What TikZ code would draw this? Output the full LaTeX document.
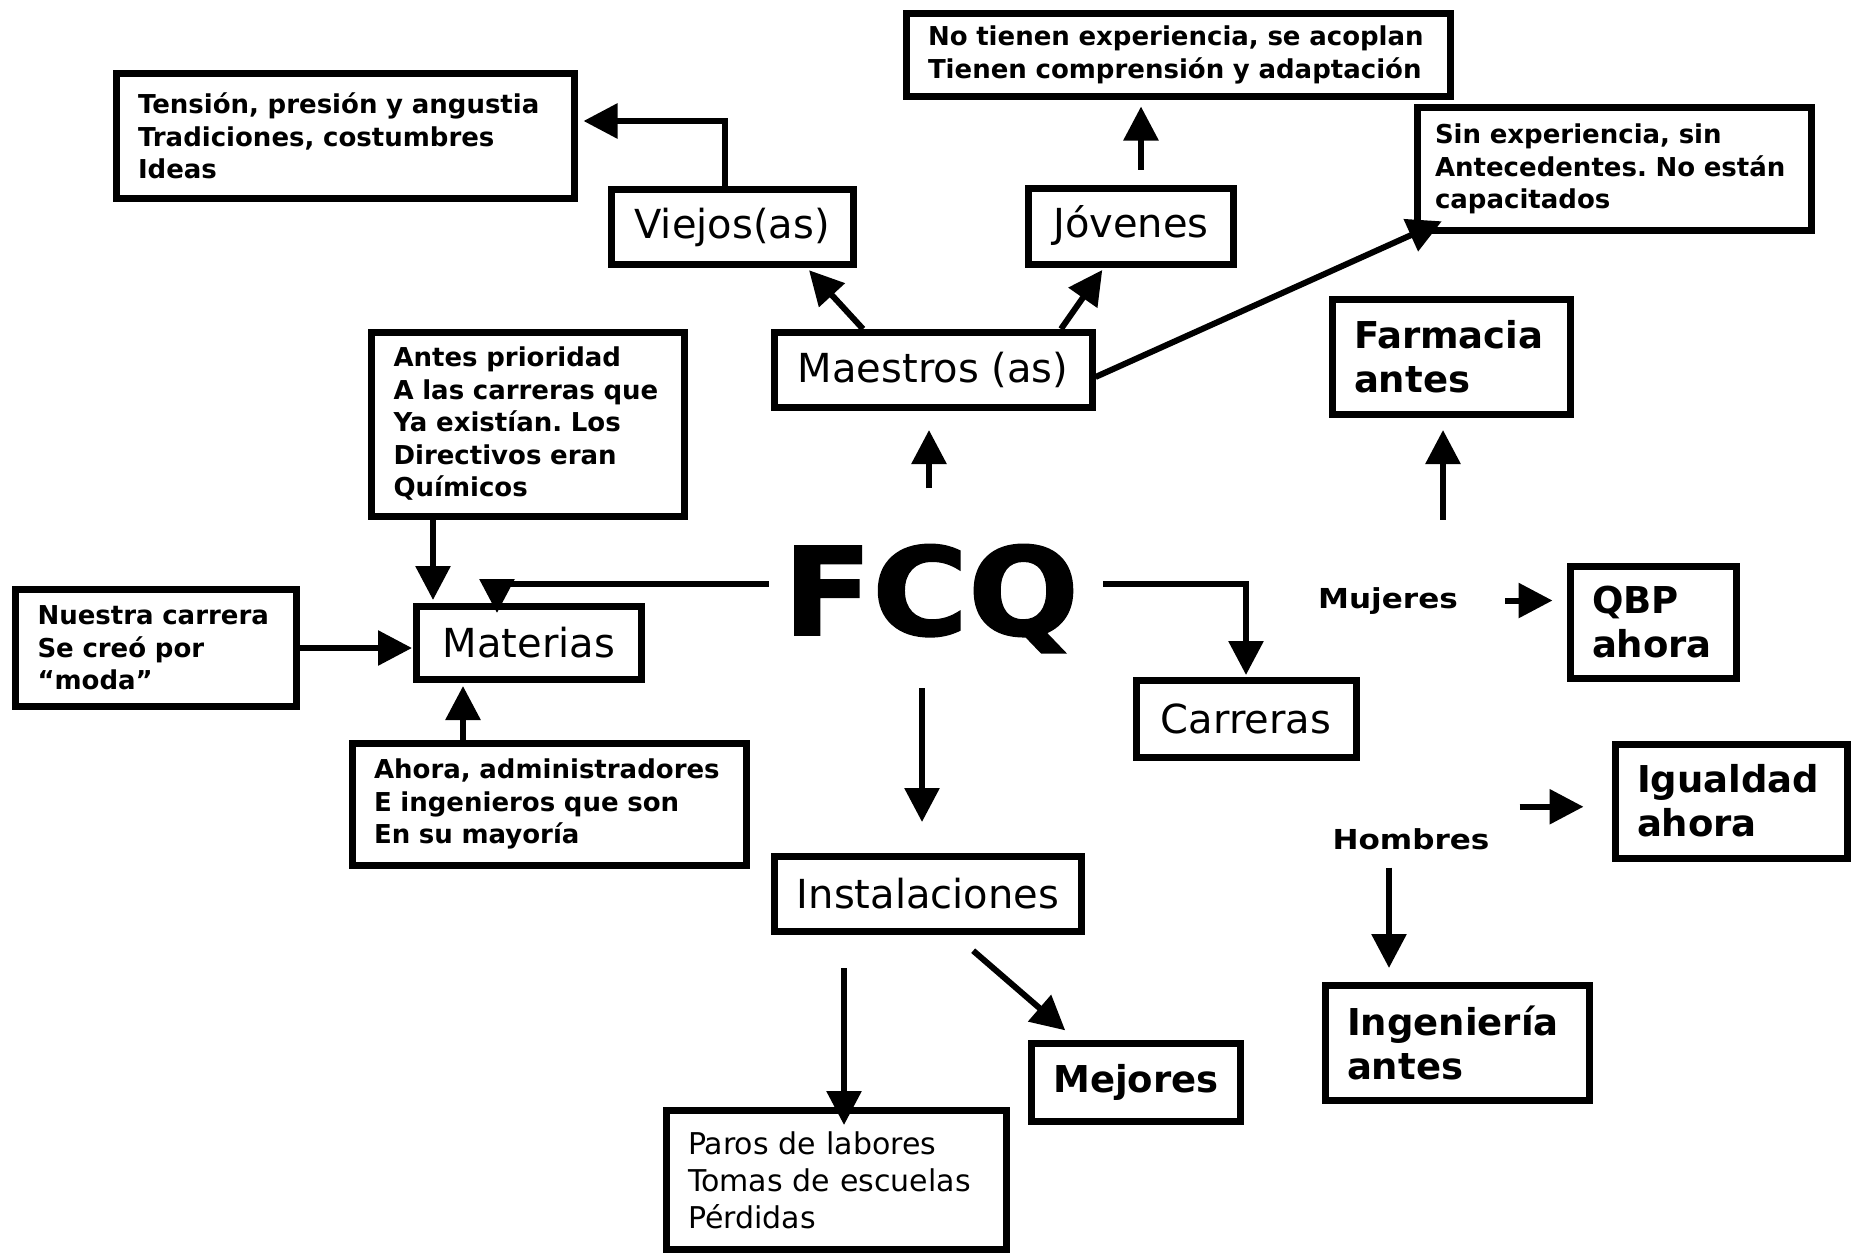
\documentclass[tikz,border=0pt]{standalone}
\usepackage{fontspec}
\setmainfont{DejaVu Sans}
\newfontfamily\widefont{DejaVu Sans}[FakeStretch=1.13]
\newfontfamily\heavyfont{DejaVu Sans}[FakeStretch=1.07, FakeBold=1.5]
\usetikzlibrary{arrows.meta,calc}

\tikzset{
  box/.style={draw, line width=7pt, inner xsep=22pt, inner ysep=4pt},
  note/.style={box, align=left, font=\bfseries\fontsize{26}{32.5}\selectfont},
  title/.style={box, align=center, font=\fontsize{40}{48}\selectfont},
  tag/.style={box, align=left, font=\bfseries\fontsize{37}{44}\selectfont},
  plain/.style={box, align=left, font=\fontsize{30}{37}\selectfont},
  side/.style={inner sep=0pt, anchor=base, font=\widefont\bfseries\fontsize{27.5}{32}\selectfont},
  arr/.style={line width=6pt, -{Triangle[length=34pt,width=34pt]}},
}

\begin{document}
\frenchspacing
\begin{tikzpicture}[x=1pt,y=1pt,yscale=-1,xscale=1]
\useasboundingbox (0,0) rectangle (1853,1255);

% centre
\node[inner xsep=14pt, inner ysep=0pt, anchor=base, font=\heavyfont\bfseries\fontsize{122}{122}\selectfont] (fcq) at (931,635) {FCQ};

% upper branch
\node[title, minimum width=318pt, minimum height=75pt] (maestros) at (933,370) {Maestros (as)};
\node[title, minimum width=242pt, minimum height=75pt] (viejos) at (732,227) {Viejos(as)};
\node[title, minimum width=205pt, minimum height=76pt] (jovenes) at (1131,226) {Jóvenes};
\node[note, text width=414pt, minimum height=124pt] (tension) at (345,136) {Tensión, presión y angustia\\Tradiciones, costumbres\\Ideas};
\node[note, text width=500pt, minimum height=82pt] (notienen) at (1178,55) {No tienen experiencia, se acoplan\\Tienen comprensión y adaptación};
\node[note, text width=358pt, inner xsep=18pt, minimum height=123pt] (sinexp) at (1614,169) {Sin experiencia, sin\\Antecedentes. No están\\capacitados};

% left branch
\node[title, minimum width=225pt, minimum height=73pt] (materias) at (529,643) {Materias};
\node[note, text width=269pt, minimum height=184pt] (antes) at (528,424) {Antes prioridad\\A las carreras que\\Ya existían. Los\\Directivos eran\\Químicos};
\node[note, text width=237pt, minimum height=117pt] (nuestra) at (156,648) {Nuestra carrera\\Se creó por\\“moda”};
\node[note, text width=350pt, minimum height=122pt] (ahora) at (549,804) {Ahora, administradores\\E ingenieros que son\\En su mayoría};

% lower branch
\node[title, minimum width=307pt, minimum height=75pt] (instalaciones) at (928,894) {Instalaciones};
\node[tag, align=center, minimum width=207pt, minimum height=78pt] (mejores) at (1136,1082) {Mejores};
\node[plain, text width=296pt, minimum height=139pt] (paros) at (836,1180) {Paros de labores\\Tomas de escuelas\\Pérdidas};

% right branch
\node[title, minimum width=220pt, minimum height=77pt] (carreras) at (1246,719) {Carreras};
\node[side] (mujeres) at (1388,608) {Mujeres};
\node[side] (hombres) at (1411,849) {Hombres};
\node[tag, text width=194pt, minimum height=115pt] (farmacia) at (1451,357) {Farmacia\\antes};
\node[tag, text width=122pt, minimum height=112pt] (qbp) at (1653,622) {QBP\\ahora};
\node[tag, text width=188pt, minimum height=114pt] (igualdad) at (1731,801) {Igualdad\\ahora};
\node[tag, text width=220pt, minimum height=115pt] (ingenieria) at (1457,1043) {Ingeniería\\antes};

% connectors
\draw[arr, shorten <=56pt, shorten >=19pt] ([xshift=-2pt]fcq.north) -- ([xshift=-2pt]fcq.north |- maestros.south);
\draw[arr, shorten >=3pt] ([xshift=-70pt]maestros.north) -- ([xshift=75pt]viejos.south);
\draw[arr, shorten >=3pt] ([xshift=128pt]maestros.north) -- ([xshift=-27pt]jovenes.south);
\draw[arr, shorten >=-31pt] ($(maestros.east)+(0,7)$) -- (sinexp.south west);
\draw[arr, shorten >=6pt] ([xshift=-7pt]viejos.north) |- ($(tension.east)+(0,-15)$);
\draw[arr, shorten <=15pt, shorten >=7pt] ([xshift=10pt]jovenes.north) -- ([xshift=10pt]jovenes.north |- notienen.south);

\draw[arr, shorten >=-10pt] ($(fcq.west)+(0,-15)$) -| ([xshift=-32pt]materias.north);
\draw[arr, shorten >=3pt] ([xshift=-95pt]antes.south) -- ([xshift=-95pt]antes.south |- materias.north);
\draw[arr, shorten >=1pt] (nuestra.east) -- (nuestra.east -| materias.west);
\draw[arr, shorten >=3pt] ([xshift=-66pt]materias.south |- ahora.north) -- ([xshift=-66pt]materias.south);

\draw[arr, shorten <=35pt, shorten >=31pt] ([xshift=-9pt]fcq.south) -- ([xshift=-9pt]fcq.south |- instalaciones.north);
\draw[arr, shorten <=24pt, shorten >=14pt] ([xshift=27pt]instalaciones.south) -- ([xshift=48pt]mejores.north west);
\draw[arr, shorten <=33pt, shorten >=-18pt] ([xshift=-84pt]instalaciones.south) -- ([xshift=-84pt]instalaciones.south |- paros.north);

\draw[arr, shorten <=10pt, shorten >=2pt] ($(fcq.east)+(0,-15)$) -| (carreras.north);
\draw[arr, shorten <=67pt, shorten >=12pt] ([xshift=-8pt]farmacia.south |- mujeres.north) -- ([xshift=-8pt]farmacia.south);
\draw[arr, shorten <=47pt, shorten >=14pt] (mujeres.east) -- (mujeres.east -| qbp.west);
\coordinate (h1) at ($(hombres.east)+(30,-32)$);
\draw[arr, shorten >=28pt] (h1) -- (h1 -| igualdad.west);
\draw[arr, shorten <=18pt, shorten >=14pt] ([xshift=-22pt]hombres.south) -- ([xshift=-22pt]hombres.south |- ingenieria.north);

\end{tikzpicture}
\end{document}
